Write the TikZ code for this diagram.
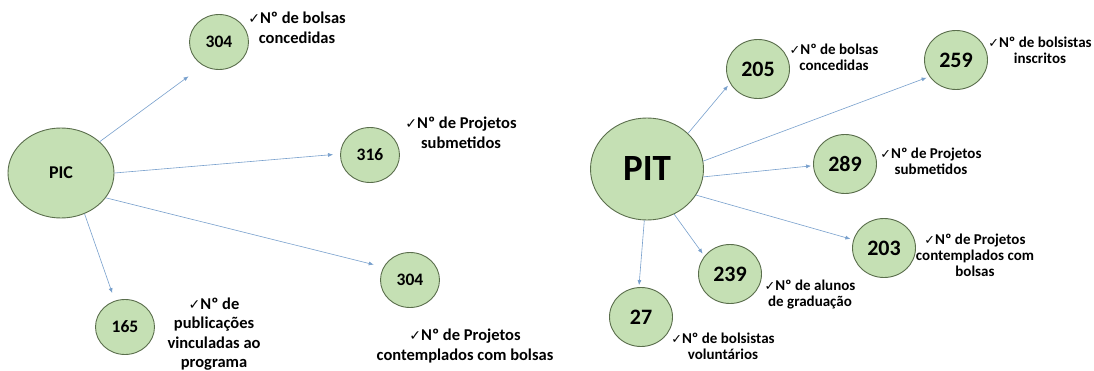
\documentclass[tikz,border=0pt]{standalone}
\usepackage{fontspec}
\usepackage{graphicx}
\setmainfont{Carlito}
\newfontfamily\chkfont{DejaVu Sans}
\newcommand{\ck}{{\chkfont\scalebox{0.85}{✓}}}
\usetikzlibrary{shapes.geometric,arrows.meta}
\definecolor{cfill}{HTML}{C5E0B4}
\definecolor{cline}{HTML}{5A6E4C}
\definecolor{arrc}{RGB}{120,160,205}
\begin{document}
\begin{tikzpicture}[x=1pt,y=-1pt,
  bub/.style={ellipse,draw=cline,fill=cfill,line width=0.9pt,inner sep=0pt},
  sl/.style={bub,minimum width=59pt,minimum height=55pt,font=\bfseries\fontsize{17.5}{20}\selectfont},
  sr/.style={bub,minimum width=63pt,minimum height=59pt,font=\bfseries\fontsize{22}{24}\selectfont},
  labl/.style={align=center,font=\bfseries\fontsize{16.5}{19.5}\selectfont,inner sep=0pt},
  labr/.style={align=center,font=\bfseries\fontsize{15}{16}\selectfont,inner sep=0pt},
  arr/.style={draw=arrc,line width=0.6pt,-{Latex[length=5pt,width=4pt]}}]
\fill[white] (0,0) rectangle (1094,365);
% PIC side
\node[bub,minimum width=106pt,minimum height=90pt,font=\bfseries\fontsize{18}{20}\selectfont] (pic) at (61,173) {PIC};
\node[sl] (a1) at (219,42) {304};
\node[sl] (a2) at (370,155) {316};
\node[sl] (a3) at (410,280) {304};
\node[sl] (a4) at (125,327) {165};
\node[labl] (la1) at (297,28) {\ck Nº de bolsas\\concedidas};
\node[labl] (la2) at (461,133) {\ck Nº de Projetos\\submetidos};
\node[labl] (la3) at (214,334) {\ck Nº de\\publicações\\vinculadas ao\\programa};
\node[labl] (la4) at (465,346) {\ck Nº de Projetos\\contemplados com bolsas};
\draw[arr,shorten >=18pt] (pic.39) -- (a1.236);
\draw[arr,shorten >=7pt] (pic.0) -- (a2.178);
\draw[arr,shorten >=10pt] (pic.331) -- (a3.154);
\draw[arr,shorten >=8pt] (pic.300) -- (a4.111);
% PIT side
\node[bub,minimum width=113pt,minimum height=102pt,font=\bfseries\fontsize{37}{40}\selectfont] (pit) at (647,169) {PIT};
\node[sr] (b1) at (758,69) {205};
\node[sr] (b2) at (956,60) {259};
\node[sr] (b3) at (845,164) {289};
\node[sr] (b4) at (884,248) {203};
\node[sr] (b5) at (730,274) {239};
\node[sr] (b6) at (641,317) {27};
\node[labr] (lb1) at (834,57) {\ck Nº de bolsas\\concedidas};
\node[labr] (lb2) at (1040,50) {\ck Nº de bolsistas\\inscritos};
\node[labr] (lb3) at (931,161) {\ck Nº de Projetos\\submetidos};
\node[labr] (lb4) at (975,255) {\ck Nº de Projetos\\contemplados com\\bolsas};
\node[labr] (lb5) at (810,295) {\ck Nº de alunos\\de graduação};
\node[labr] (lb6) at (723,346) {\ck Nº de bolsistas\\voluntários};
\draw[arr,shorten >=3pt] (pit.41) -- (b1.207);
\draw[arr,shorten >=3pt] (pit.8) -- (b2.212);
\draw[arr,shorten >=2pt] (pit.352) -- (b3.183);
\draw[arr,shorten >=3pt] (pit.332) -- (b4.165);
\draw[arr,shorten >=3pt] (pit.301) -- (b5.145);
\draw[arr,shorten >=2pt] (pit.267) -- (b6.94);
\end{tikzpicture}
\end{document}
